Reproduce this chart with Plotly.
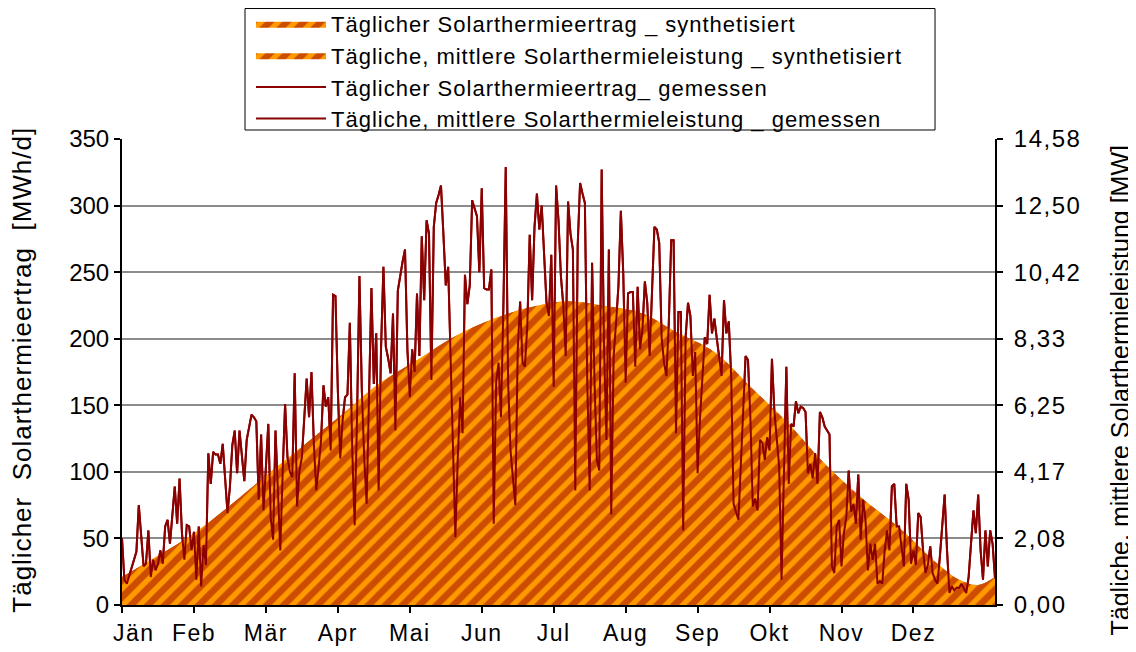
import plotly.graph_objects as go

# ---------------- data ----------------
month_labels = ["\u00a0\u00a0\u00a0Jän", "Feb", "Mär", "Apr", "Mai", "Jun", "Jul", "Aug", "Sep", "Okt", "Nov", "Dez"]
month_tick_days = [0, 30, 60, 90, 120, 150, 180, 210, 240, 270, 300, 330]

# synthesised daily yield (MWh/d), read at sample days
synth_days = [0, 15, 31, 62, 93, 107, 124, 138, 155, 169, 184, 200, 217, 231, 247, 262, 278, 293, 308, 324, 340, 349, 357, 364]
synth_yield = [21, 37, 55, 100, 145, 166, 185, 201, 215, 223, 228, 225, 219, 205, 190, 164, 136, 106, 81, 58, 31, 19, 15, 21]

# measured daily yield (MWh/d), one value per day
measured_jan = [50, 19, 16, 22, 29, 35, 40, 75, 54, 29, 31, 56, 21, 34, 26, 31, 41, 31, 59, 64, 46, 66, 89, 61, 95, 54, 34, 60, 59, 41, 55]
measured_feb = [19, 59, 14, 45, 30, 114, 91, 115, 113, 113, 106, 121, 95, 69, 89, 120, 131, 99, 131, 110, 93, 124, 135, 143, 141, 138, 79, 128, 71, 100, 136]
measured_mar = [66, 49, 131, 91, 41, 100, 151, 111, 100, 96, 174, 74, 101, 111, 140, 170, 141, 175, 121, 86, 104, 124, 165, 149, 156, 116, 233, 232, 161, 110, 139]
measured_apr = [156, 158, 212, 116, 60, 141, 247, 161, 110, 76, 159, 238, 166, 204, 86, 192, 254, 194, 185, 174, 219, 131, 236, 249, 258, 267, 192, 156, 192, 175, 234]
measured_mai = [187, 277, 229, 289, 279, 169, 284, 302, 308, 315, 279, 240, 254, 192, 116, 51, 110, 156, 129, 248, 226, 240, 304, 298, 292, 250, 313, 238, 237, 237, 252]
measured_jun = [61, 167, 182, 141, 222, 329, 167, 116, 95, 75, 192, 228, 182, 179, 210, 278, 229, 284, 309, 282, 300, 267, 227, 217, 263, 164, 315, 289, 247, 225]
measured_jul = [187, 303, 279, 267, 86, 270, 317, 309, 302, 167, 86, 257, 169, 109, 101, 327, 192, 124, 267, 68, 187, 212, 240, 296, 249, 167, 234, 235, 235, 179]
measured_aug = [239, 192, 207, 243, 227, 187, 237, 284, 282, 272, 201, 182, 172, 212, 274, 274, 129, 220, 220, 56, 201, 227, 217, 172, 190, 99, 140, 170, 201, 196, 233, 204]
measured_sep = [215, 200, 185, 172, 229, 204, 213, 172, 76, 70, 64, 104, 150, 187, 184, 141, 74, 80, 71, 124, 122, 109, 126, 116, 185, 146, 125, 104, 19, 91, 179]
measured_okt = [91, 136, 134, 153, 144, 149, 148, 145, 99, 106, 95, 114, 91, 145, 141, 134, 131, 128, 29, 24, 59, 64, 29, 54, 66, 101, 70, 76, 61, 98, 49, 79]
measured_nov = [64, 26, 46, 34, 46, 16, 18, 16, 41, 56, 41, 89, 91, 59, 59, 46, 29, 91, 79, 31, 41, 30, 69, 66, 41, 24, 30, 44, 24, 19, 16]
measured_dez = [36, 59, 83, 41, 9, 14, 11, 13, 13, 16, 12, 9, 21, 46, 71, 54, 83, 41, 19, 56, 29, 56, 46, 20]

left_ticks = [0, 50, 100, 150, 200, 250, 300, 350]
right_tick_labels = ["0,00", "2,08", "4,17", "6,25", "8,33", "10,42", "12,50", "14,58"]

names = [
    "Täglicher Solarthermieertrag _ synthetisiert",
    "Tägliche, mittlere Solarthermieleistung _ synthetisiert",
    "Täglicher Solarthermieertrag_ gemessen",
    "Tägliche, mittlere Solarthermieleistung _ gemessen",
]

# ---------------- build ----------------
measured_yield = (measured_jan + measured_feb + measured_mar + measured_apr + measured_mai + measured_jun
                  + measured_jul + measured_aug + measured_sep + measured_okt + measured_nov + measured_dez)
days = list(range(len(measured_yield)))
synth_power = [v / 24 for v in synth_yield]
measured_power = [v / 24 for v in measured_yield]


def spaced(t, px):
    return '<span style="letter-spacing:%spx">%s</span>' % (px, t)


labels = [spaced(n, 1) for n in names]

FONT = "Liberation Sans, Arial, sans-serif"
LINE = "#8B0000"
pattern = dict(shape="/", bgcolor="#FF9900", fgcolor="#990000", size=12, solidity=0.55)

fig = go.Figure()
fig.add_trace(go.Scatter(x=synth_days, y=synth_yield, name=labels[0], mode="lines",
                         line=dict(shape="spline", width=0, color="#990000"),
                         fill="tozeroy", fillpattern=pattern, fillcolor="#FF9900", yaxis="y"))
fig.add_trace(go.Scatter(x=days, y=measured_yield, name=labels[2], mode="lines",
                         line=dict(color=LINE, width=2), yaxis="y", showlegend=False))
fig.add_trace(go.Scatter(x=synth_days, y=synth_power, name=labels[1], mode="lines",
                         line=dict(shape="spline", width=0, color="#990000"),
                         fill="tozeroy", fillpattern=pattern, fillcolor="#FF9900", yaxis="y2"))
fig.add_trace(go.Scatter(x=days, y=measured_power, name=labels[3], mode="lines",
                         line=dict(color=LINE, width=2), yaxis="y2", showlegend=False))
# legend-only entries in the reference order
fig.add_trace(go.Scatter(x=[None], y=[None], name=labels[2], mode="lines",
                         line=dict(color=LINE, width=2), yaxis="y"))
fig.add_trace(go.Scatter(x=[None], y=[None], name=labels[3], mode="lines",
                         line=dict(color=LINE, width=2), yaxis="y"))

fig.update_layout(
    width=1128, height=644,
    margin=dict(l=114, r=141, t=131, b=47, autoexpand=False),
    paper_bgcolor="white", plot_bgcolor="white",
    font=dict(family=FONT, size=24, color="black"),
    showlegend=True,
    legend=dict(x=0.1478, y=1.292, xanchor="left", yanchor="top",
                bgcolor="rgba(0,0,0,0)", borderwidth=0,
                font=dict(size=22), itemwidth=70, traceorder="normal"),
    shapes=[dict(type="rect", xref="paper", yref="paper", x0=0.1409, x1=0.9313, y0=1.0193, y1=1.280,
                 line=dict(color="black", width=1), fillcolor="white", layer="below")],
    xaxis=dict(range=[0, 364], tickvals=month_tick_days,
               ticktext=[spaced(m, 1.5) for m in month_labels],
               ticks="outside", ticklen=6, tickcolor="black", tickwidth=2, tickfont=dict(size=23),
               showline=True, linecolor="black", linewidth=2, showgrid=False, zeroline=False),
    yaxis=dict(range=[0, 350], tickvals=left_ticks, ticks="outside", ticklen=6,
               tickcolor="black", tickwidth=2, showline=True, linecolor="black", linewidth=2,
               showgrid=True, gridcolor="#8c8c8c", gridwidth=2, zeroline=False),
    yaxis2=dict(range=[0, 350 / 24], overlaying="y", side="right",
                tickvals=[v / 24 for v in left_ticks],
                ticktext=[spaced(t, 1.5) for t in right_tick_labels],
                ticks="outside", ticklen=6, tickcolor="black", tickwidth=2, ticklabelstandoff=6,
                showline=True, linecolor="black", linewidth=2, showgrid=False, zeroline=False),
    annotations=[
        dict(text=spaced("Täglicher  Solarthermieertrag  [MWh/d]", 1), xref="paper", yref="paper",
             x=-0.1145, y=0.505, textangle=-90, showarrow=False, font=dict(size=26),
             xanchor="center", yanchor="middle"),
        dict(text="Tägliche, mittlere Solarthermieleistung [MW]", xref="paper", yref="paper",
             x=1.143, y=0.46, textangle=-90, showarrow=False, font=dict(size=25),
             xanchor="center", yanchor="middle"),
    ],
)

fig.write_html("out.html")
